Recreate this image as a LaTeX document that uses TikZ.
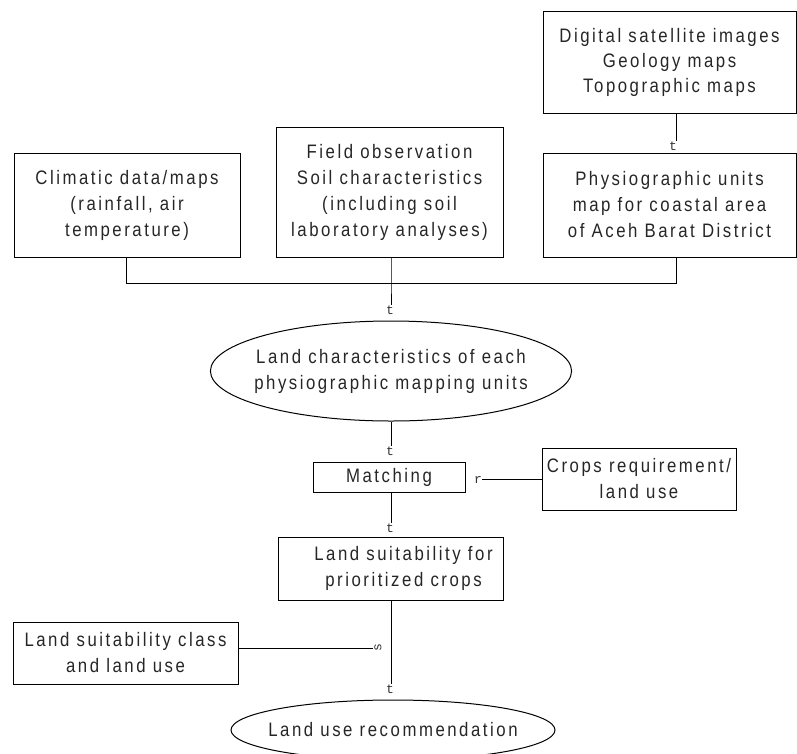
\documentclass[tikz,border=0pt]{standalone}
\usepackage{fontspec}
\setmainfont{Liberation Sans}[LetterSpace=13,FakeStretch=0.86]
\newfontfamily\glyphfont{Liberation Mono}
\usetikzlibrary{shapes.geometric}
\begin{document}
\begin{tikzpicture}[x=1pt,y=-1pt,line width=1pt,
  box/.style={draw,rectangle,inner sep=0pt,align=center,text=black!85,
    font=\fontsize{19.5}{26}\selectfont},
  oval/.style={draw,ellipse,inner ysep=0pt,align=center,text=black!85,
    font=\fontsize{19.5}{26}\selectfont},
  tip/.style={inner sep=0pt,text=black!80,font=\glyphfont\fontsize{13}{13}\selectfont},
  link/.style={draw,line width=1pt}]
\useasboundingbox (0,0) rectangle (797,753);

% boxes
\node[box,minimum width=253pt,minimum height=102pt] (sat) at (669.5,62)
  {Digital satellite images\\[-1pt]Geology maps\\[-1pt]Topographic maps};
\node[box,minimum width=226pt,minimum height=104pt] (clim) at (127,205)
  {Climatic data/maps\\(rainfall, air\\temperature)};
\node[box,minimum width=227pt,minimum height=130pt] (field) at (389.5,192)
  {Field observation\\Soil characteristics\\(including soil\\laboratory analyses)};
\node[box,minimum width=253pt,minimum height=104pt] (phys) at (669.5,205)
  {Physiographic units\\map for coastal area\\of Aceh Barat District};
\node[oval,inner xsep=-9pt,minimum width=360pt,minimum height=100pt] (chars) at (391,371)
  {Land characteristics of each\\physiographic mapping units};
\node[box,minimum width=152pt,minimum height=30pt] (match) at (389,477) {Matching};
\node[box,minimum width=194pt,minimum height=62pt] (crops) at (639,479)
  {Crops requirement/\\land use};
\node[box,minimum width=225pt,minimum height=63pt] (suit) at (390.5,568.5)
  {\hspace*{26pt}Land suitability for\\\hspace*{26pt}prioritized crops};
\node[box,minimum width=225pt,minimum height=62pt] (class) at (125.5,653)
  {Land suitability class\\and land use};
\node[oval,inner xsep=-12pt,minimum width=324pt,minimum height=60pt] (rec) at (393,730)
  {Land use recommendation};

% arrow glyphs
\node[tip] (g1) at (673,146) {t};
\node[tip] (g2) at (390,310) {t};
\node[tip] (g3) at (390,451) {t};
\node[tip] (g4) at (390,528) {t};
\node[tip] (g5) at (478,480) {r};
\node[tip,rotate=90] (g6) at (378,648) {s};
\node[tip] (g7) at (390,689) {t};

% junction
\coordinate (jl) at (126,283);
\coordinate (jc) at (391,283);
\coordinate (jr) at (676,283);

% connectors
\draw[link] (jr |- sat.south) -- (jr |- g1.north);
\draw[link] (jl |- clim.south) -- (jl) -- (jr) -- (jr |- phys.south);
\draw[link] (jc |- field.south) -- (jc) -- (jc |- g2.north);
\draw[link] (jc |- chars.south) -- (jc |- g3.north);
\draw[link] (jc |- match.south) -- (jc |- g4.north);
\draw[link] (crops.west) -- (g5.east |- crops.west);
\draw[link] (jc |- suit.south) -- (jc |- g7.north);
\draw[link] (class.east |- g6) -- ([xshift=-5pt]g6.center);
\end{tikzpicture}
\end{document}
